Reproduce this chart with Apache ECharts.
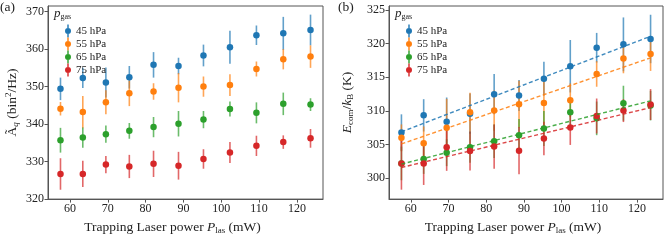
<!DOCTYPE html>
<html>
<head>
<meta charset="utf-8">
<script src="https://cdn.jsdelivr.net/npm/echarts@6/dist/echarts.min.js"></script>
<style>html,body{margin:0;padding:0;background:#fff}#c{width:664px;height:240px}</style>
</head>
<body>
<div id="c"></div>
<script>
// ---- data ----
const power = [57.5, 63.4, 69.5, 75.7, 82.1, 88.7, 95.3, 102.3, 109.3, 116.4, 123.6];
const seriesNames = ['45 hPa', '55 hPa', '65 hPa', '75 hPa'];
const xTicks = [60, 70, 80, 90, 100, 110, 120];
const yTicksA = [320, 330, 340, 350, 360, 370];
const yTicksB = [300, 305, 310, 315, 320, 325];

// panel (a): A_q (bin^2/Hz)
const A45 = [349.4, 352.3, 351.1, 352.5, 355.8, 355.5, 358.3, 360.5, 363.7, 364.2, 365.1];
const A45err = [3.0, 2.7, 4.0, 3.0, 3.4, 2.2, 2.9, 4.4, 2.6, 4.4, 4.1];
const A55 = [344.1, 343.2, 345.8, 348.2, 348.7, 349.7, 350.0, 350.4, 354.7, 357.3, 358.0];
const A55err = [1.8, 4.3, 3.2, 3.4, 2.2, 3.9, 2.7, 2.9, 2.0, 2.7, 3.0];
const A65 = [335.7, 336.4, 337.3, 338.2, 339.2, 340.1, 341.2, 344.0, 343.0, 345.4, 345.2];
const A65err = [3.3, 2.7, 2.3, 2.1, 2.7, 3.4, 2.3, 2.0, 2.8, 3.0, 1.7];
const A75 = [326.7, 326.7, 329.2, 328.7, 329.4, 328.9, 330.7, 332.4, 334.2, 335.2, 336.2];
const A75err = [4.2, 3.5, 2.3, 3.1, 3.5, 3.7, 2.6, 2.8, 2.7, 1.8, 2.5];

// panel (b): E_com/k_B (K)
const E45 = [306.8, 309.35, 308.4, 309.6, 312.5, 312.3, 314.8, 316.65, 319.4, 319.9, 320.7];
const E45err = [2.7, 2.4, 3.6, 3.0, 3.0, 2.3, 2.5, 3.9, 2.2, 4.0, 3.6];
const E55 = [306.0, 305.2, 307.5, 309.8, 310.05, 311.0, 311.2, 311.6, 315.5, 317.8, 318.45];
const E55err = [2.0, 2.5, 4.3, 2.9, 3.0, 3.5, 3.5, 2.5, 1.9, 2.2, 2.5];
const E65 = [302.2, 302.85, 303.8, 304.6, 305.5, 306.4, 307.4, 309.8, 308.9, 311.15, 310.8];
const E65err = [2.5, 2.2, 2.0, 2.3, 2.5, 2.4, 2.6, 2.1, 2.5, 2.6, 2.2];
const E75 = [302.2, 302.2, 304.6, 304.05, 304.7, 304.1, 305.9, 307.55, 309.25, 310.05, 310.95];
const E75err = [3.9, 3.2, 3.5, 2.9, 3.3, 3.5, 2.5, 2.6, 2.6, 1.7, 2.3];

// linear fits in panel (b)
const fitX = [57.5, 123.6];
const fit45 = [306.9, 321.1];
const fit55 = [305.1, 317.9];
const fit65 = [302.1, 311.5];
const fit75 = [301.6, 310.5];

// ---- styling ----
const colors = ['#1f77b4', '#ff7f0e', '#2ca02c', '#d62728'];
const FONT = '"Liberation Serif", "DejaVu Serif", serif';
const TXT = '#222';
const FRAME = '#555';
const iconPath = 'path://M2.3,0 L3.7,0 L3.7,3.6 L2.3,3.6 Z M2.3,9.4 L3.7,9.4 L3.7,13 L2.3,13 Z M0,6.5 A3,3 0 1 1 6,6.5 A3,3 0 1 1 0,6.5 Z';

const chart = echarts.init(document.getElementById('c'), null, {renderer: 'canvas'});

function xAxisDef(gi) {
  return {
    type: 'value', gridIndex: gi, min: 54.2, max: 126.9,
    axisLine: {show: true, lineStyle: {color: FRAME, width: 1}},
    axisTick: {show: true, length: 3.5, lineStyle: {color: FRAME}, customValues: xTicks},
    axisLabel: {color: TXT, fontFamily: FONT, fontSize: 12, margin: 4, customValues: xTicks},
    splitLine: {show: false},
    name: '{n|Trapping Laser power }{i|P}{s|las}{n| (mW)}',
    nameLocation: 'middle', nameGap: 18,
    nameTextStyle: {
      padding: [0, 26, 0, 0],
      rich: {
        n: {fontFamily: FONT, fontSize: 13.5, color: TXT, lineHeight: 16},
        i: {fontFamily: FONT, fontSize: 13.5, fontStyle: 'italic', color: TXT, lineHeight: 16},
        s: {fontFamily: FONT, fontSize: 9, color: TXT, lineHeight: 16, verticalAlign: 'bottom', padding: [5, 0, 0, 0]}
      }
    }
  };
}
function yAxisDef(gi, min, max, ticks, name, gap) {
  return {
    type: 'value', gridIndex: gi, min: min, max: max,
    axisLine: {show: true, lineStyle: {color: FRAME, width: 1}},
    axisTick: {show: true, length: 3.5, lineStyle: {color: FRAME}, customValues: ticks},
    axisLabel: {color: TXT, fontFamily: FONT, fontSize: 12, margin: 4, customValues: ticks},
    splitLine: {show: false},
    name: name, nameLocation: 'middle', nameRotate: 90, nameGap: gap,
    nameTextStyle: {
      rich: {
        n: {fontFamily: FONT, fontSize: 13.5, color: TXT, lineHeight: 16},
        i: {fontFamily: FONT, fontSize: 13.5, fontStyle: 'italic', color: TXT, lineHeight: 16},
        s: {fontFamily: FONT, fontSize: 9, color: TXT, lineHeight: 16, verticalAlign: 'bottom', padding: [5, 0, 0, 0]},
        si: {fontFamily: FONT, fontSize: 9, fontStyle: 'italic', color: TXT, lineHeight: 16, verticalAlign: 'bottom', padding: [5, 0, 0, 0]},
        sup: {fontFamily: FONT, fontSize: 9, color: TXT, lineHeight: 16, verticalAlign: 'top', padding: [0, 0, 5, 0]}
      }
    }
  };
}

function errSeries(gi, vals, errs, color) {
  return {
    type: 'custom', xAxisIndex: gi, yAxisIndex: gi, z: 2,
    data: power.map((x, i) => [x, vals[i], errs[i]]),
    encode: {x: 0, y: 1},
    renderItem: function (params, api) {
      const x = api.value(0), y = api.value(1), e = api.value(2);
      const p1 = api.coord([x, y - e]);
      const p2 = api.coord([x, y + e]);
      return {type: 'line', shape: {x1: p1[0], y1: p1[1], x2: p2[0], y2: p2[1]},
        style: {stroke: color, lineWidth: 1.6, opacity: 0.7}};
    }
  };
}
function dotSeries(gi, name, vals, color) {
  return {
    type: 'scatter', name: name, xAxisIndex: gi, yAxisIndex: gi, z: 3,
    symbol: 'circle', symbolSize: 6.5,
    itemStyle: {color: color, opacity: 1},
    data: power.map((x, i) => [x, vals[i]])
  };
}
function fitSeries(gi, fit, color) {
  return {
    type: 'line', xAxisIndex: gi, yAxisIndex: gi, z: 4,
    symbol: 'none', silent: true,
    lineStyle: {color: color, width: 1.4, type: [4, 2.5], opacity: 0.85},
    data: fitX.map((x, i) => [x, fit[i]])
  };
}

const aVals = [A45, A55, A65, A75], aErrs = [A45err, A55err, A65err, A75err];
const bVals = [E45, E55, E65, E75], bErrs = [E45err, E55err, E65err, E75err];
const bFits = [fit45, fit55, fit65, fit75];

const series = [];
for (let k = 0; k < 4; k++) {
  series.push(errSeries(0, aVals[k], aErrs[k], colors[k]));
  series.push(dotSeries(0, seriesNames[k], aVals[k], colors[k]));
}
for (let k = 0; k < 4; k++) {
  series.push(errSeries(1, bVals[k], bErrs[k], colors[k]));
  series.push(dotSeries(1, seriesNames[k], bVals[k], colors[k]));
}
for (let k = 0; k < 4; k++) series.push(fitSeries(1, bFits[k], colors[k]));

function legendDef(left) {
  return {
    orient: 'vertical', left: left, top: 19.5, itemWidth: 6, itemHeight: 13, itemGap: 0,
    icon: iconPath, selectedMode: false,
    data: seriesNames.map(n => ({name: n, icon: iconPath})),
    textStyle: {fontFamily: FONT, fontSize: 11, color: TXT}
  };
}

function pgasTitle(left) {
  return {
    type: 'text', left: left, top: 7,
    style: {
      text: '{i|p}{s|gas}',
      rich: {
        i: {fontFamily: FONT, fontSize: 13, fontStyle: 'italic', fill: TXT, lineHeight: 15},
        s: {fontFamily: FONT, fontSize: 8, fill: TXT, lineHeight: 15, verticalAlign: 'bottom', padding: [4, 0, 0, 0]}
      }
    }
  };
}

chart.setOption({
  animation: false,
  backgroundColor: '#fff',
  grid: [
    {left: 48, width: 275, top: 6, height: 201, show: true, borderColor: FRAME, borderWidth: 1, containLabel: false},
    {left: 389, width: 274, top: 6, height: 201, show: true, borderColor: FRAME, borderWidth: 1, containLabel: false}
  ],
  xAxis: [xAxisDef(0), xAxisDef(1)],
  yAxis: [
    yAxisDef(0, 320, 371.5, yTicksA, '{n|Ã}{si|q}{n| (bin}{sup|2}{n|/Hz)}', 28),
    yAxisDef(1, 296.9, 325.6, yTicksB, '{i|E}{s|com}{n|/}{i|k}{s|B}{n| (K)}', 34)
  ],
  legend: [legendDef(60), legendDef(401)],
  graphic: [
    {type: 'text', left: 0, top: 0, style: {text: '(a)', fontFamily: FONT, fontSize: 13.5, fill: TXT}},
    {type: 'text', left: 338, top: 0, style: {text: '(b)', fontFamily: FONT, fontSize: 13.5, fill: TXT}},
    pgasTitle(54),
    pgasTitle(395)
  ],
  series: series
});
</script>
</body>
</html>
